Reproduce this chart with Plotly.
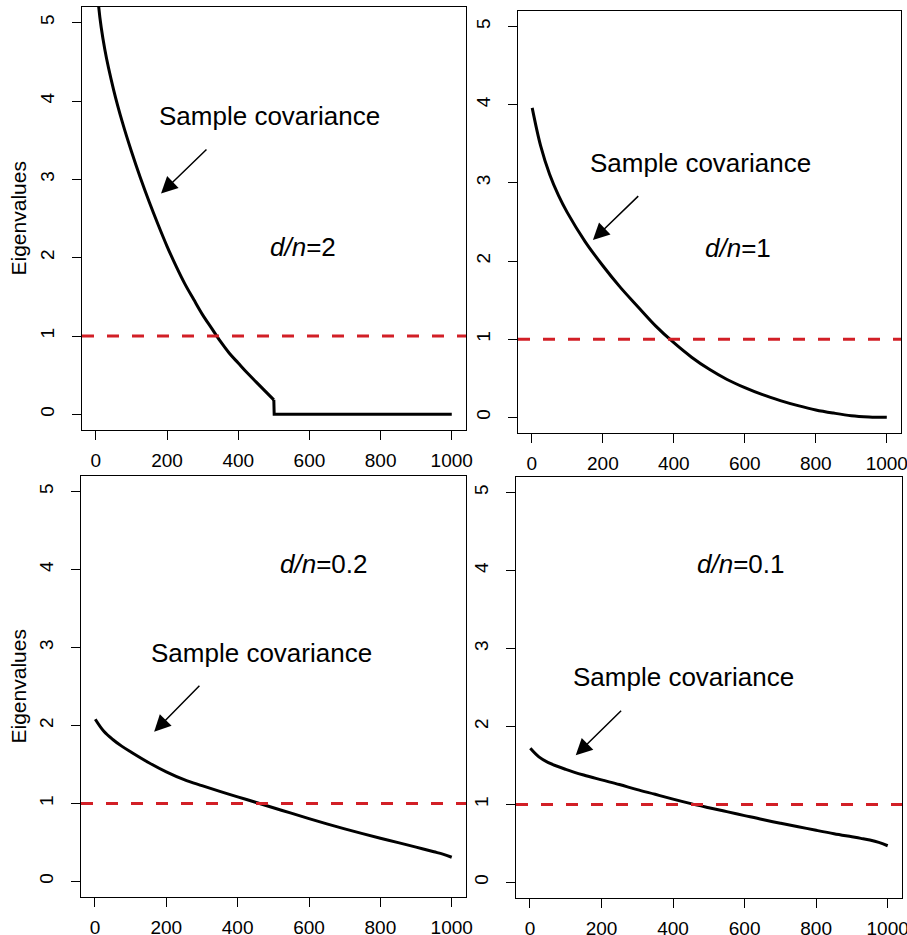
import plotly.graph_objects as go
from plotly.subplots import make_subplots

# --- Data (eigenvalues sorted in decreasing order) ---

# d/n = 2 : half of the eigenvalues are exactly zero
idx_r2 = [1, 8, 25, 50, 75, 100, 125, 150, 175, 200, 225, 250, 275, 300, 325, 350, 375, 400, 425, 450, 475, 500]
eig_r2 = [5.80, 5.20, 4.66, 4.14, 3.72, 3.355, 3.02, 2.71, 2.42, 2.145, 1.895, 1.665, 1.465, 1.27, 1.10, 0.93,
          0.78, 0.655, 0.53, 0.415, 0.30, 0.185]
idx_r2_zero = [500, 501, 1000]
eig_r2_zero = [0.185, 0.0, 0.0]

# d/n = 1
idx_r1 = [1, 25, 50, 75, 100, 150, 200, 250, 300, 350, 400, 450, 500, 550, 600, 650, 700, 750, 800, 850, 900, 950, 1000]
eig_r1 = [3.96, 3.47, 3.11, 2.84, 2.62, 2.25, 1.94, 1.66, 1.41, 1.165, 0.955, 0.77, 0.615, 0.485, 0.38, 0.29,
          0.215, 0.15, 0.095, 0.055, 0.022, 0.006, 0.0]

# d/n = 0.2
idx_r02 = [1, 25, 50, 75, 100, 150, 200, 250, 300, 350, 400, 450, 500, 550, 600, 650, 700, 750, 800, 850, 900, 950, 975, 1000]
eig_r02 = [2.08, 1.925, 1.82, 1.735, 1.662, 1.525, 1.405, 1.305, 1.228, 1.155, 1.085, 1.015, 0.945, 0.875, 0.805,
           0.738, 0.674, 0.613, 0.554, 0.497, 0.44, 0.38, 0.35, 0.31]

# d/n = 0.1
idx_r01 = [1, 25, 50, 100, 150, 200, 250, 300, 350, 400, 450, 500, 550, 600, 650, 700, 750, 800, 850, 900, 925, 950, 975, 1000]
eig_r01 = [1.72, 1.61, 1.54, 1.45, 1.377, 1.315, 1.255, 1.19, 1.13, 1.068, 1.01, 0.958, 0.908, 0.857,
           0.806, 0.759, 0.714, 0.668, 0.624, 0.585, 0.565, 0.543, 0.513, 0.47]

ratio_labels = ["2", "1", "0.2", "0.1"]
true_eigenvalue = 1
x_ticks = [0, 200, 400, 600, 800, 1000]
y_ticks = [0, 1, 2, 3, 4, 5]

# label / arrow placement in data units: (text x, text y, arrow tail x, tail y, head x, head y, ratio x, ratio y)
label_pos = [
    (487, 3.81, 315, 3.40, 183, 2.82, 583, 2.13),
    (475, 3.26, 304, 2.85, 172, 2.27, 580, 2.17),
    (468, 2.93, 297, 2.53, 166, 1.92, 641, 4.07),
    (429, 2.63, 259, 2.22, 128, 1.63, 589, 4.08),
]

FONT = "Liberation Sans, Arial, Helvetica, sans-serif"
RED = "#D21F26"

fig = make_subplots(rows=2, cols=2)

curve = dict(color="black", width=3)
smooth = dict(shape="spline", smoothing=1.0, **curve)
fig.add_trace(go.Scatter(x=idx_r2, y=eig_r2, mode="lines", line=smooth), row=1, col=1)
fig.add_trace(go.Scatter(x=idx_r2_zero, y=eig_r2_zero, mode="lines", line=curve), row=1, col=1)
fig.add_trace(go.Scatter(x=idx_r1, y=eig_r1, mode="lines", line=smooth), row=1, col=2)
fig.add_trace(go.Scatter(x=idx_r02, y=eig_r02, mode="lines", line=smooth), row=2, col=1)
fig.add_trace(go.Scatter(x=idx_r01, y=eig_r01, mode="lines", line=smooth), row=2, col=2)

# true eigenvalue (population covariance = identity)
for r in (1, 2):
    for c in (1, 2):
        fig.add_hline(y=true_eigenvalue, line=dict(color=RED, width=3, dash="12px,13px"), row=r, col=c)

# panel frames (pixel positions of the reference converted to paper fractions)
W, H = 907, 935
frames = [
    (82, 466, 7, 430),
    (518, 901, 11, 433),
    (81, 466, 476, 897),
    (516, 902, 477, 898),
]

layout = dict(
    template="none",
    width=W, height=H,
    margin=dict(l=0, r=0, t=0, b=0, autoexpand=False),
    paper_bgcolor="white", plot_bgcolor="white",
    showlegend=False,
    font=dict(family=FONT, color="black"),
)
axis_common = dict(
    showgrid=False, zeroline=False, showline=True, mirror=True, automargin=False,
    linecolor="black", linewidth=1, ticks="outside", ticklen=9,
    tickcolor="black", tickwidth=1, tickfont=dict(size=19, family=FONT, color="black"),
)
for i, (x0, x1, y0, y1) in enumerate(frames):
    sfx = "" if i == 0 else str(i + 1)
    layout["xaxis" + sfx] = dict(
        domain=[x0 / W, x1 / W], range=[-39, 1040], tickvals=x_ticks,
        ticklabelstandoff=4, ticklabeloverflow="allow", **axis_common,
    )
    layout["yaxis" + sfx] = dict(
        domain=[1 - y1 / H, 1 - y0 / H], range=[-0.2, 5.2], tickvals=y_ticks,
        tickangle=-90, ticklabelstandoff=10, **axis_common,
    )
fig.update_layout(**layout)

annotations = []
for i, (tx, ty, ax, ay, hx, hy, rx, ry) in enumerate(label_pos):
    sfx = "" if i == 0 else str(i + 1)
    annotations.append(dict(
        x=tx, y=ty, xref="x" + sfx, yref="y" + sfx, text="Sample covariance",
        showarrow=False, font=dict(size=26, family=FONT, color="black"),
    ))
    annotations.append(dict(
        x=hx, y=hy, xref="x" + sfx, yref="y" + sfx, ax=ax, ay=ay,
        axref="x" + sfx, ayref="y" + sfx, text="", showarrow=True,
        arrowhead=2, arrowsize=2.2, arrowwidth=1.5, arrowcolor="black",
    ))
    annotations.append(dict(
        x=rx, y=ry, xref="x" + sfx, yref="y" + sfx,
        text="<i>d/n</i>=" + ratio_labels[i],
        showarrow=False, font=dict(size=26, family=FONT, color="black"),
    ))

# y axis title only on the left column
for yc in ((7 + 430) / 2, (476 + 897) / 2):
    annotations.append(dict(
        x=18 / W, y=1 - yc / H, xref="paper", yref="paper", text="Eigenvalues",
        xanchor="center", yanchor="middle",
        textangle=-90, showarrow=False, font=dict(size=21, family=FONT, color="black"),
    ))
fig.update_layout(annotations=annotations)

# the page body has a default 8px margin; drop it so the figure fills the window
fig.write_html("out.html", config={"displayModeBar": False},
               post_script="document.body.style.margin='0';")
